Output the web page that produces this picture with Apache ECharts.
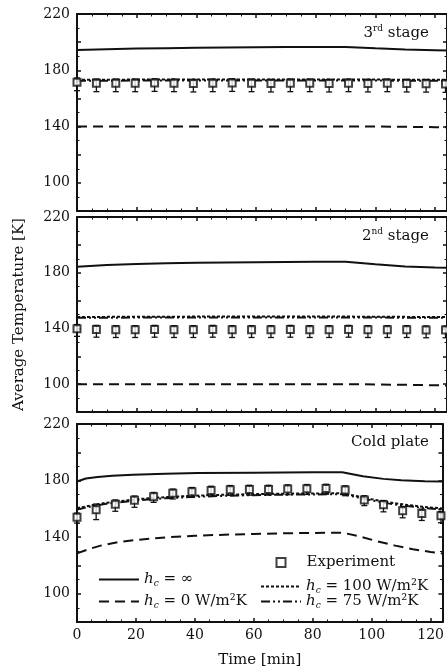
<!DOCTYPE html>
<html><head><meta charset="utf-8">
<script src="https://cdn.jsdelivr.net/npm/echarts@6/dist/echarts.min.js"></script>
<style>html,body{margin:0;padding:0;background:#fff}#c{width:447px;height:672px}</style>
</head><body><div id="c"></div>
<script>
// ---------- data ----------
const xTicks = [0, 20, 40, 60, 80, 100, 120];
const yTicks = [100, 140, 180, 220];
const expTime = [0,6.5,13,19.5,26,32.5,39,45.5,52,58.5,65,71.5,78,84.5,91,97.5,104,110.5,117,123.5];

// 3rd stage
const s3Time = [0,10,20,30,40,50,60,70,80,90,100,110,120,124];
const s3Inf  = [194.5,195,195.4,195.7,196,196.2,196.4,196.5,196.6,196.6,195.6,194.8,194.3,194.1];
const s3Zero = [140,140,140,140,140,140,140,140,140,140,140,139.8,139.6,139.5];
const s3H100 = [173.2,173.3,173.4,173.4,173.5,173.5,173.5,173.5,173.5,173.5,173.4,173.3,173.2,173.2];
const s3H75  = [172.5,172.6,172.7,172.7,172.8,172.8,172.8,172.8,172.8,172.8,172.7,172.6,172.5,172.5];
const s3Exp  = [171.5,170.8,170.8,170.8,171,170.8,170.6,170.8,171,170.8,170.6,170.8,170.8,170.6,170.8,170.6,170.8,170.6,170.5,170.3];
const s3ErrUp   = [3,3,3,3,3,3,3,3,3,3,3,3,3,3,3,3,3,3,3,3];
const s3ErrDown = [6,6,6,6,6,6,6,6,6,6,6,6,6,6,6,6,6,6,6,6];

// 2nd stage
const s2Time = [0,10,20,30,40,50,60,70,80,90,100,110,120,124];
const s2Inf  = [184.2,185.5,186.3,186.8,187.2,187.4,187.6,187.7,187.8,187.8,186,184.5,183.7,183.5];
const s2Zero = [100,100,100,100,100,100,100,100,100,100,99.8,99.5,99.2,99];
const s2H100 = [148.2,148.3,148.4,148.4,148.5,148.5,148.5,148.5,148.5,148.5,148.4,148.3,148.2,148.2];
const s2H75  = [147.6,147.7,147.8,147.8,147.9,147.9,147.9,147.9,147.9,147.9,147.8,147.7,147.6,147.6];
const s2Exp  = [139.8,139.2,139,139,139.2,139,139,139.2,139,139,139,139.2,139,139,139.2,139,139,139,138.8,138.8];
const s2ErrUp   = [3,3,3,3,3,3,3,3,3,3,3,3,3,3,3,3,3,3,3,3];
const s2ErrDown = [5.5,5.5,5.5,5.5,5.5,5.5,5.5,5.5,5.5,5.5,5.5,5.5,5.5,5.5,5.5,5.5,5.5,5.5,5.5,5.5];

// Cold plate
const cpInfTime  = [0,3,7,12,19,30,41,60,80,90,97,104,110,118,124];
const cpInf      = [179.3,181.5,182.6,183.4,184.2,184.8,185.3,185.6,185.8,185.9,183,181.2,180.2,179.6,179.4];
const cpZeroTime = [0,4,8,14,20,30,40,50,60,70,80,90,96,102,108,114,120,124];
const cpZero     = [128.5,131.5,134,136.5,138,139.8,141,141.7,142.3,142.7,143,143.2,140.5,137,134,131.5,129.5,128.5];
const cpHTime    = [0,5,10,20,30,40,50,60,70,80,90,96,100,106,112,118,124];
const cpH100     = [160.5,162.5,164.3,166.8,168.3,169.3,170,170.4,170.7,170.9,171,168.6,166.8,164.5,162.8,161.3,160.3];
const cpH75      = [159.5,161.8,163.6,166,167.5,168.5,169.2,169.7,170,170.2,170.3,167.8,166,163.7,162,160.5,159.5];
const cpExp      = [154.0,159.4,163.3,166.1,168.6,171.0,172.1,173.0,173.5,173.7,173.7,174.0,174.2,174.4,173.3,166.3,162.9,158.7,156.8,155.2];
const cpErrUp    = [3,4,3,3,3,3,3,3,3,3,3,3,3,3,3,3,3,3,3,3];
const cpErrDown  = [4,7,5,5,4,4,4,4,4,4,4,4,4,4,4,4,5,5,5,5];

const legendNames = ['hinf', 'h0', 'Experiment', 'h100', 'h75'];

// ---------- chart ----------
const FONT = "'DejaVu Serif', serif";
const INK = '#111';
const zip = (a, b) => a.map((v, i) => [v, b[i]]);

const grids = [
  { left: 77, right: -1, top: 14, height: 197 },
  { left: 77, right: -1, top: 217, height: 195 },
  { left: 77, right: -1, top: 424, height: 198 }
];

const axisLine = { show: true, onZero: false, lineStyle: { color: INK, width: 2 } };
function xAxis(gi, pos) {
  const bottomLabeled = gi === 2 && pos === 'bottom';
  const a = {
    type: 'value', gridIndex: gi, position: pos, min: 0, max: 124, interval: 20,
    axisLine: axisLine,
    axisTick: { show: true, inside: true, length: 4, lineStyle: { color: INK, width: 1.5 } },
    minorTick: { show: true, splitNumber: 4, length: 2.5, lineStyle: { color: INK, width: 1 } },
    splitLine: { show: false },
    axisLabel: { show: bottomLabeled, margin: 6, color: INK, fontFamily: FONT, fontSize: 14,
      formatter: v => xTicks.indexOf(v) >= 0 ? String(v) : '' }
  };
  if (bottomLabeled) {
    a.name = 'Time [min]'; a.nameLocation = 'middle'; a.nameGap = 31;
    a.nameTextStyle = { color: INK, fontFamily: FONT, fontSize: 15 };
  }
  return a;
}
function yAxis(gi, pos) {
  const a = {
    type: 'value', gridIndex: gi, position: pos, min: 80, max: 220, interval: 20,
    axisLine: axisLine,
    axisTick: { show: true, inside: true, length: 4, lineStyle: { color: INK, width: 1.5 } },
    minorTick: { show: true, splitNumber: 2, length: 2.5, lineStyle: { color: INK, width: 1 } },
    splitLine: { show: false },
    axisLabel: { show: pos === 'left', margin: 7, color: INK, fontFamily: FONT, fontSize: 14,
      formatter: v => yTicks.indexOf(v) >= 0 ? String(v) : '' }
  };
  if (gi === 1 && pos === 'left') {
    a.name = 'Average Temperature [K]'; a.nameLocation = 'middle'; a.nameGap = 50; a.nameRotate = 90;
    a.nameTextStyle = { color: INK, fontFamily: FONT, fontSize: 15 };
  }
  return a;
}

const lineStyles = {
  hinf: { color: INK, width: 2, type: 'solid' },
  h0:   { color: INK, width: 2, type: [10, 6] },
  h100: { color: INK, width: 2, type: [3, 2] },
  h75:  { color: INK, width: 2, type: [9, 3, 2, 3, 2, 3] }
};
function lineSeries(name, gi, t, v) {
  return { type: 'line', name: name, xAxisIndex: gi, yAxisIndex: gi, data: zip(t, v),
    symbol: 'none', showSymbol: false, lineStyle: lineStyles[name], itemStyle: { color: INK },
    z: 2, silent: true, animation: false };
}
function errRender(params, api) {
  const x = api.value(0), lo = api.value(1), hi = api.value(2);
  const p1 = api.coord([x, lo]), p2 = api.coord([x, hi]);
  const w = 3, st = { stroke: INK, lineWidth: 1.3 };
  return { type: 'group', children: [
    { type: 'line', shape: { x1: p1[0], y1: p1[1], x2: p2[0], y2: p2[1] }, style: st },
    { type: 'line', shape: { x1: p1[0] - w, y1: p1[1], x2: p1[0] + w, y2: p1[1] }, style: st },
    { type: 'line', shape: { x1: p2[0] - w, y1: p2[1], x2: p2[0] + w, y2: p2[1] }, style: st }
  ] };
}
function expSeries(gi, v, up, down) {
  return [
    { type: 'custom', xAxisIndex: gi, yAxisIndex: gi, renderItem: errRender,
      data: expTime.map((t, i) => [t, v[i] - down[i], v[i] + up[i]]),
      encode: { x: 0, y: [1, 2] }, z: 3, silent: true, animation: false },
    { type: 'scatter', name: 'Experiment', xAxisIndex: gi, yAxisIndex: gi, data: zip(expTime, v),
      symbol: 'emptyRect', symbolSize: 7, itemStyle: { color: INK, borderWidth: 1.5 },
      z: 4, silent: true, animation: false }
  ];
}

const series = [
  lineSeries('hinf', 0, s3Time, s3Inf), lineSeries('h0', 0, s3Time, s3Zero),
  lineSeries('h100', 0, s3Time, s3H100), lineSeries('h75', 0, s3Time, s3H75),
  ...expSeries(0, s3Exp, s3ErrUp, s3ErrDown),
  lineSeries('hinf', 1, s2Time, s2Inf), lineSeries('h0', 1, s2Time, s2Zero),
  lineSeries('h100', 1, s2Time, s2H100), lineSeries('h75', 1, s2Time, s2H75),
  ...expSeries(1, s2Exp, s2ErrUp, s2ErrDown),
  lineSeries('hinf', 2, cpInfTime, cpInf), lineSeries('h0', 2, cpZeroTime, cpZero),
  lineSeries('h100', 2, cpHTime, cpH100), lineSeries('h75', 2, cpHTime, cpH75),
  ...expSeries(2, cpExp, cpErrUp, cpErrDown)
];

const RICH = {
  i: { fontFamily: FONT, fontStyle: 'italic', fontSize: 15, lineHeight: 18, color: INK },
  s: { fontFamily: FONT, fontStyle: 'italic', fontSize: 9, lineHeight: 10, padding: [8, 0, 0, 0], color: INK },
  t: { fontFamily: FONT, fontSize: 15, lineHeight: 18, color: INK },
  e: { fontFamily: FONT, fontSize: 15, lineHeight: 18, color: INK, padding: [0, 0, 0, 16] }
};
const legendText = {
  hinf: '{i|h}{s|c}{t| = ∞}',
  h0: '{i|h}{s|c}{t| = 0 W/m²K}',
  Experiment: '{e|Experiment}',
  h100: '{i|h}{s|c}{t| = 100 W/m²K}',
  h75: '{i|h}{s|c}{t| = 75 W/m²K}'
};
// [left, top, itemWidth, itemHeight]
const legendPos = [[98, 571, 40, 14], [98, 593, 40, 14], [275.5, 555, 9, 9], [260, 578, 40, 14], [260, 593, 40, 14]];
const legends = legendNames.map((n, k) => ({
  data: [n], left: legendPos[k][0], top: legendPos[k][1], padding: 0,
  itemWidth: legendPos[k][2], itemHeight: legendPos[k][3], selectedMode: false,
  itemStyle: n === 'Experiment' ? { borderWidth: 1.5 } : { opacity: 0 },
  formatter: nm => legendText[nm],
  textStyle: { color: INK, fontFamily: FONT, fontSize: 15, rich: RICH }
}));

const PR = {
  n: { fontFamily: FONT, fontSize: 15, lineHeight: 18, fill: INK },
  sup: { fontFamily: FONT, fontSize: 9, lineHeight: 10, padding: [0, 0, 8, 0], fill: INK }
};
const panelText = [
  '{n|3}{sup|rd}{n| stage}',
  '{n|2}{sup|nd}{n| stage}',
  '{n|Cold plate}'
];
const panelY = [33, 236, 442];
const graphic = panelText.map((t, k) => ({
  type: 'text', x: 429, y: panelY[k], silent: true,
  style: { text: t, rich: PR, align: 'right', verticalAlign: 'middle', fill: INK, font: "15px 'DejaVu Serif'" }
}));

const chart = echarts.init(document.getElementById('c'), null, { renderer: 'canvas' });
chart.setOption({
  animation: false,
  backgroundColor: '#fff',
  grid: grids,
  xAxis: [xAxis(0, 'bottom'), xAxis(1, 'bottom'), xAxis(2, 'bottom'), xAxis(0, 'top'), xAxis(1, 'top'), xAxis(2, 'top')],
  yAxis: [yAxis(0, 'left'), yAxis(1, 'left'), yAxis(2, 'left'), yAxis(0, 'right'), yAxis(1, 'right'), yAxis(2, 'right')],
  legend: legends,
  graphic: graphic,
  series: series
});
</script></body></html>
